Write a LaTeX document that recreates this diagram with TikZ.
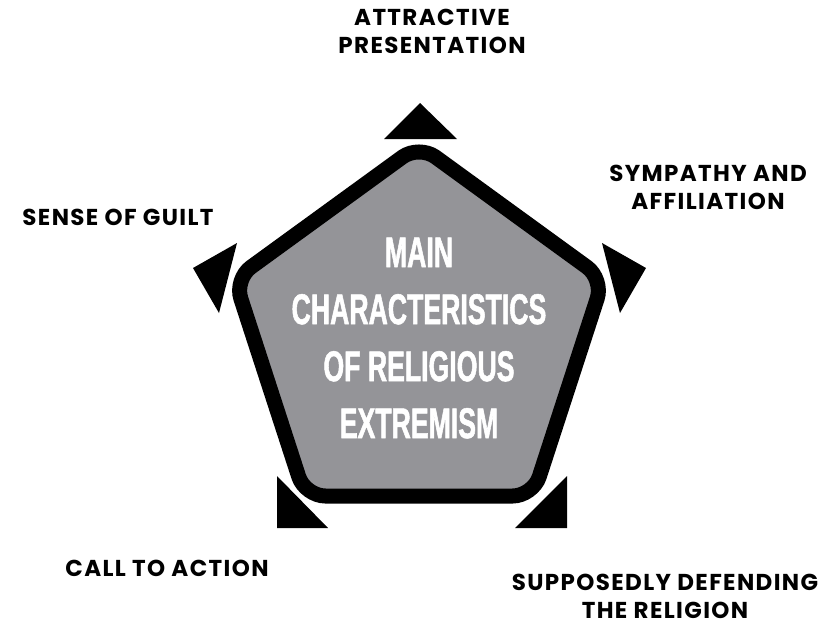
\documentclass[tikz,border=0pt]{standalone}
\usepackage{fontspec}
\newfontfamily\labfont{Poppins}[LetterSpace=6]
\newfontfamily\condfont{Liberation Sans}[FakeStretch=0.62,FakeBold=1.2]
\definecolor{pentfill}{RGB}{148,148,152}
\begin{document}
\begin{tikzpicture}[x=1pt,y=-1pt,
  lab/.style={font=\labfont\bfseries\fontsize{23}{28}\selectfont, align=center, inner sep=0pt},
  tri/.style={fill=black, draw=none},
  pent/.style={draw=black, line width=15pt, fill=pentfill, rounded corners=20.3pt}]
\useasboundingbox (0,0) rectangle (825,627);
% pentagon
\coordinate (pT) at (419,145);
\coordinate (pUR) at (603.5,279.1);
\coordinate (pLR) at (533,496);
\coordinate (pLL) at (305,496);
\coordinate (pUL) at (234.5,279.1);
\draw[pent] (419,496) -- (pLL) -- (pUL) -- (pT) -- (pUR) -- (pLR) -- cycle;
% triangles
\fill[tri] (420,103) -- (457,139) -- (384,139) -- cycle;
\fill[tri] (602,243) -- (646,268) -- (620,313) -- cycle;
\fill[tri] (567,476) -- (567,528) -- (515,528) -- cycle;
\fill[tri] (277,476) -- (277,528) -- (328,528) -- cycle;
\fill[tri] (193,268) -- (237,243) -- (219,313) -- cycle;
% centre text
\node[font=\condfont\bfseries\fontsize{43}{57}\selectfont, text=white, align=center, inner sep=0pt] (title) at (419,338) {MAIN\\CHARACTERISTICS\\OF RELIGIOUS\\EXTREMISM};
% labels
\node[lab] (attr) at (432,31) {ATTRACTIVE\\PRESENTATION};
\node[lab] (symp) at (708,187) {SYMPATHY AND\\AFFILIATION};
\node[lab] (guilt) at (118,217) {SENSE OF GUILT};
\node[lab] (call) at (167,568) {CALL TO ACTION};
\node[lab] (supp) at (665,596) {SUPPOSEDLY DEFENDING\\THE RELIGION};
\end{tikzpicture}
\end{document}
